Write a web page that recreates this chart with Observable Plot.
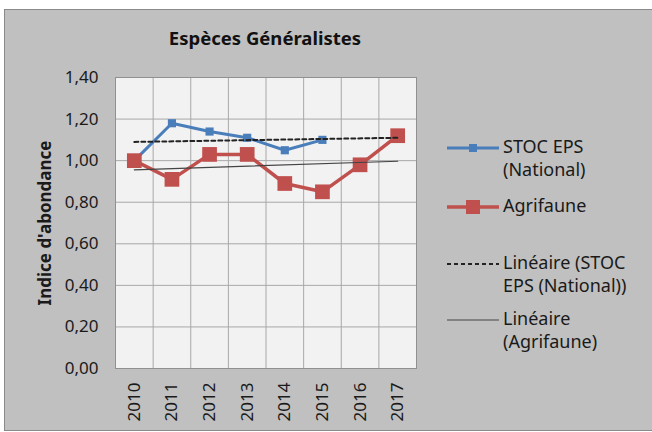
<!DOCTYPE html>
<html><head><meta charset="utf-8">
<script src="https://cdn.jsdelivr.net/npm/d3@7"></script>
<script src="https://cdn.jsdelivr.net/npm/@observablehq/plot@0.6"></script>
<style>
body{margin:0;background:#fff;font-family:"Noto Sans",sans-serif;}
#wrap{position:relative;width:652px;height:432px;overflow:hidden;}
#box{position:absolute;left:4px;top:9px;width:660px;height:422px;background:#c0c0c0;border:1px solid #8a8a8a;box-sizing:border-box}
#title{position:absolute;left:0;width:530px;top:24px;text-align:center;font-weight:bold;font-size:18.5px;color:#111;line-height:28px}
#chart{position:absolute;left:0;top:0}
.leg{position:absolute;left:447px;font-size:18px;color:#1a1a1a;line-height:23px}
.leg svg{position:absolute;left:0;top:0}
.leg span{position:absolute;left:56px;top:-1px;white-space:nowrap}
</style></head>
<body>
<div id="wrap">
  <div id="box"></div>
  <div id="title"></div>
  <div id="chart"></div>
  <div id="legend"></div>
</div>
<script>
const title = "Espèces Généralistes";
const yLabel = "Indice d'abondance";
const years = [2010, 2011, 2012, 2013, 2014, 2015, 2016, 2017];
const stocYears = [2010, 2011, 2012, 2013, 2014, 2015];
const stocValues = [1.00, 1.18, 1.14, 1.11, 1.05, 1.10];
const agriValues = [1.00, 0.91, 1.03, 1.03, 0.89, 0.85, 0.98, 1.12];
const trendYears = [2010, 2017];
const trendStoc = [1.09, 1.11];
const trendAgri = [0.956, 0.997];
const yTicks = [0, 0.2, 0.4, 0.6, 0.8, 1.0, 1.2, 1.4];
const legendLabels = [["STOC EPS", "(National)"], ["Agrifaune"], ["Linéaire (STOC", "EPS (National))"], ["Linéaire", "(Agrifaune)"]];

const blue = "#4a7ebb", red = "#c0504d";
const stoc = stocYears.map((year, i) => ({year, value: stocValues[i]}));
const agri = years.map((year, i) => ({year, value: agriValues[i]}));
const tStoc = trendYears.map((year, i) => ({year, value: trendStoc[i]}));
const tAgri = trendYears.map((year, i) => ({year, value: trendAgri[i]}));
const bounds = [...years.map(y => y - 0.5), years[years.length - 1] + 0.5];

document.getElementById("title").textContent = title;

const chart = Plot.plot({
  width: 652, height: 432,
  marginLeft: 115, marginRight: 236, marginTop: 77, marginBottom: 64,
  style: {background: "transparent", fontFamily: "'Noto Sans', sans-serif", color: "#1a1a1a", overflow: "visible"},
  x: {type: "linear", domain: [years[0] - 0.5, years[years.length - 1] + 0.5]},
  y: {domain: [0, 1.4]},
  marks: [
    Plot.frame({fill: "#f2f2f2", stroke: null}),
    Plot.ruleY(yTicks, {stroke: "#a8a8a8", strokeWidth: 1}),
    Plot.ruleX(bounds, {stroke: "#a8a8a8", strokeWidth: 1}),
    Plot.frame({stroke: "#909090"}),
    Plot.axisY({ticks: yTicks, tickSize: 0, tickPadding: 17, fontSize: 17, label: null,
      tickFormat: d => d.toFixed(2).replace(".", ",")}),
    Plot.axisX({ticks: years, tickSize: 0, tickPadding: 14, tickRotate: -90, fontSize: 17, label: null,
      tickFormat: d => String(d)}),
    Plot.line(stoc, {x: "year", y: "value", stroke: blue, strokeWidth: 3}),
    Plot.dot(stoc, {x: "year", y: "value", symbol: "square", fill: blue, stroke: null, r: 4.6}),
    Plot.line(agri, {x: "year", y: "value", stroke: red, strokeWidth: 3.5}),
    Plot.dot(agri, {x: "year", y: "value", symbol: "square", fill: red, stroke: null, r: 8.3}),
    Plot.line(tStoc, {x: "year", y: "value", stroke: "#222", strokeWidth: 2, strokeDasharray: "4,3"}),
    Plot.line(tAgri, {x: "year", y: "value", stroke: "#444", strokeWidth: 1.2}),
    Plot.text([yLabel], {frameAnchor: "left", textAnchor: "middle", rotate: -90, dx: -70, fontSize: 17, fontWeight: "bold", fill: "#1a1a1a"})
  ]
});
document.getElementById("chart").appendChild(chart);

// Legend
const legTops = [136, 195, 252, 308];
const swatches = [
  `<line x1="0" x2="52" y1="12" y2="12" stroke="${blue}" stroke-width="3"/><rect x="22" y="8" width="8" height="8" fill="${blue}"/>`,
  `<line x1="0" x2="52" y1="12" y2="12" stroke="${red}" stroke-width="3.5"/><rect x="19" y="5" width="14" height="14" fill="${red}"/>`,
  `<line x1="0" x2="52" y1="12" y2="12" stroke="#222" stroke-width="2" stroke-dasharray="4,3"/>`,
  `<line x1="0" x2="52" y1="12" y2="12" stroke="#444" stroke-width="1.2"/>`
];
const legend = document.getElementById("legend");
legendLabels.forEach((lines, i) => {
  const d = document.createElement("div");
  d.className = "leg";
  d.style.top = legTops[i] + "px";
  d.innerHTML = `<svg width="52" height="24">${swatches[i]}</svg><span>${lines.join("<br>")}</span>`;
  legend.appendChild(d);
});
</script>
</body></html>
